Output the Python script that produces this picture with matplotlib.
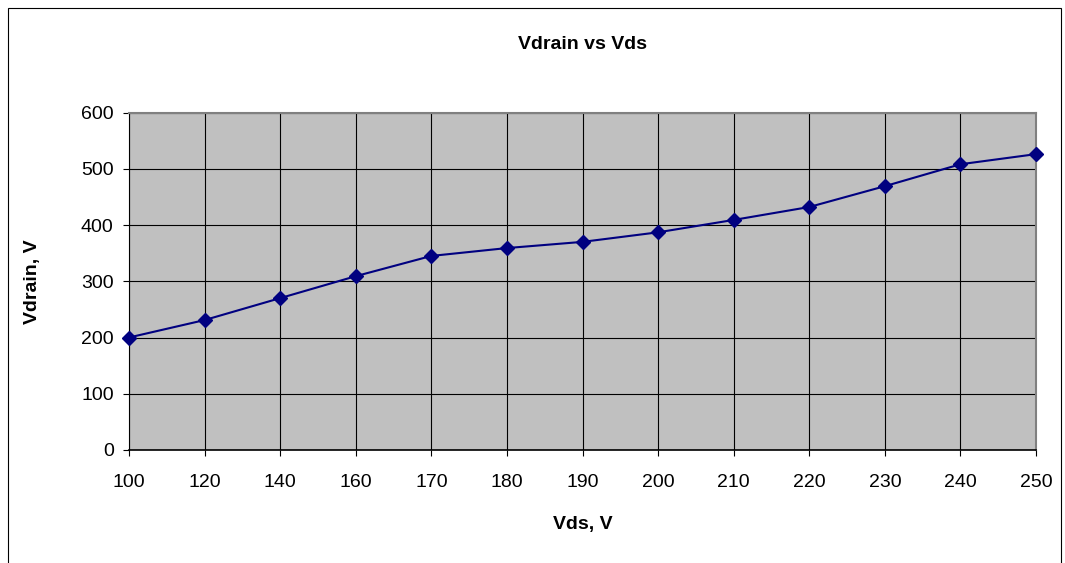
import matplotlib.pyplot as plt
from matplotlib.patches import Rectangle
import numpy as np

plt.rcParams['font.family'] = ['Liberation Sans', 'DejaVu Sans']

# datos
vds = ['100', '120', '140', '160', '170', '180', '190',
       '200', '210', '220', '230', '240', '250']
vdrain = [200, 231, 270, 309, 345, 359, 370, 387, 409, 432, 469, 508, 526]

fig = plt.figure(figsize=(10.65, 5.63), dpi=100)
ax = fig.add_axes([129/1065, 1-450/563, (1036-129)/1065, (450-112.5)/563])

# marco del area del grafico (Excel)
fig.patches.append(Rectangle((8/1065, -0.05), 1053/1065, 1.05-8/563,
                             transform=fig.transFigure, fill=False,
                             edgecolor='black', linewidth=0.8))

x = np.arange(len(vds))
ax.set_facecolor('#c0c0c0')
ax.plot(x, vdrain, color='#000080', linewidth=1.5, marker='D',
        markersize=7, markerfacecolor='#000080', markeredgecolor='#000080',
        clip_on=False, zorder=3)

ax.set_xlim(0, len(vds)-1)
ax.set_ylim(0, 600)
ax.set_xticks(x)
ax.set_xticklabels(vds)
ax.set_yticks(np.arange(0, 601, 100))
ax.grid(True, color='black', linewidth=0.8)
ax.set_axisbelow(True)

for s in ['top', 'right']:
    ax.spines[s].set_color('#808080')
    ax.spines[s].set_linewidth(1.5)
ax.spines['left'].set_color('black')
ax.spines['bottom'].set_color('black')
ax.spines['bottom'].set_linewidth(1.2)

ax.tick_params(axis='both', labelsize=14, direction='out', length=4, width=0.8)
ax.tick_params(axis='x', pad=13)
ax.tick_params(axis='y', pad=7)

ax.set_title('Vdrain vs Vds', fontsize=14, fontweight='bold', pad=46)
ax.set_xlabel('Vds, V', fontsize=14, fontweight='bold', labelpad=18)
ax.set_ylabel('Vdrain, V', fontsize=14, fontweight='bold', labelpad=29)

plt.savefig('out.png', dpi=100)
